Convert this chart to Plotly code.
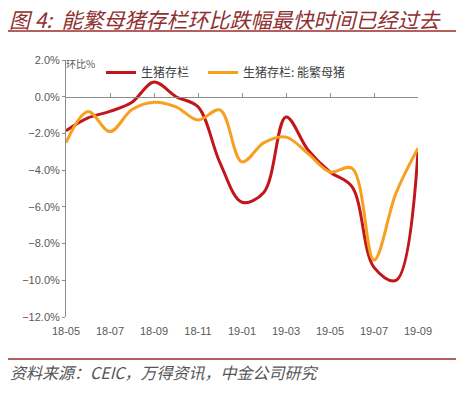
import plotly.graph_objects as go

months = ["18-05","18-06","18-07","18-08","18-09","18-10","18-11","18-12",
          "19-01","19-02","19-03","19-04","19-05","19-06","19-07","19-08","19-09"]
tick_labels = ["18-05","18-07","18-09","18-11","19-01","19-03","19-05","19-07","19-09"]
hog_stock = [-1.85,-1.15,-0.8,-0.3,0.8,0.0,-0.55,-3.6,-5.75,-5.2,-1.1,-2.9,-4.1,-4.9,-9.3,-10.0,-3.0]
sow_stock = [-2.5,-0.8,-1.9,-0.7,-0.3,-0.55,-1.27,-0.72,-3.55,-2.5,-2.2,-3.1,-4.1,-3.9,-8.9,-5.25,-2.8]
series_names = ["生猪存栏","生猪存栏: 能繁母猪"]

RED = "#C0161C"
ORANGE = "#F7A020"
GRAY = "#8C8C8C"
CJK = "Noto Sans CJK SC"

W, H = 467, 394
L, R, T, B = 66, 49, 60, 77
pw, ph = W - L - R, H - T - B
def px(x):
    return (x - L) / pw
def py(y):
    return (H - B - y) / ph

fig = go.Figure()
fig.add_trace(go.Scatter(x=months, y=hog_stock, name=series_names[0], mode="lines",
                         legend="legend",
                         line=dict(color=RED, width=3, shape="spline", smoothing=1.0)))
fig.add_trace(go.Scatter(x=months, y=sow_stock, name=series_names[1], mode="lines",
                         legend="legend2",
                         line=dict(color=ORANGE, width=3, shape="spline", smoothing=1.0)))
fig.add_trace(go.Scatter(x=months[:1], y=[0], xaxis="x2", mode="markers", opacity=0,
                         showlegend=False, hoverinfo="skip"))

legend_style = dict(orientation="h", y=py(58), xanchor="left", yanchor="top",
                    font=dict(family=CJK, size=12, color="#404040"),
                    bgcolor="rgba(0,0,0,0)", itemwidth=30, tracegroupgap=0)

fig.update_layout(
    width=W, height=H,
    margin=dict(l=L, r=R, t=T, b=B, autoexpand=False),
    paper_bgcolor="white", plot_bgcolor="white",
    font=dict(family="Liberation Sans, Arial", color="#595959", size=11),
    xaxis=dict(type="category", categoryorder="array", categoryarray=months,
               range=[0, len(months) - 1], tickvals=tick_labels, ticktext=tick_labels,
               showline=False, ticks="outside", ticklen=4, tickcolor="rgba(0,0,0,0)",
               showgrid=False, zeroline=False,
               tickfont=dict(size=11, color="#595959")),
    xaxis2=dict(type="category", overlaying="x", matches="x", anchor="free",
                position=12 / 14, showline=True, linecolor=GRAY, linewidth=1,
                ticks="inside", ticklen=4, tickcolor=GRAY, tickvals=tick_labels,
                showticklabels=False, showgrid=False, zeroline=False),
    yaxis=dict(range=[-12, 2], dtick=2, tickformat=".1f", ticksuffix="%",
               showline=True, linecolor=GRAY, linewidth=1, ticks="outside",
               ticklen=3, tickcolor=GRAY, showgrid=False, zeroline=False,
               tickfont=dict(size=11, color="#595959")),
    legend=dict(x=px(101), **legend_style),
    legend2=dict(x=px(203), **legend_style),
    showlegend=True,
)

fig.add_annotation(text="<i>图 4:  能繁母猪存栏环比跌幅最快时间已经过去</i>",
                   xref="paper", yref="paper", x=px(7), y=py(19), xanchor="left",
                   yanchor="middle", showarrow=False,
                   font=dict(family=CJK, size=21, color="#8F3030"))
fig.add_annotation(text="<i>资料来源：CEIC，万得资讯，中金公司研究</i>",
                   xref="paper", yref="paper", x=px(8), y=py(372), xanchor="left",
                   yanchor="middle", showarrow=False,
                   font=dict(family=CJK, size=16, color="#555555"))
fig.add_annotation(text="环比%", xref="paper", yref="paper", x=px(64), y=py(64),
                   xanchor="left", yanchor="middle", showarrow=False,
                   font=dict(family=CJK, size=10, color="#595959"))

fig.add_shape(type="line", xref="paper", yref="paper", x0=px(8), x1=px(456),
              y0=py(31), y1=py(31), line=dict(color="#9B2B2B", width=1.5))
fig.add_shape(type="line", xref="paper", yref="paper", x0=px(8), x1=px(456),
              y0=py(359), y1=py(359), line=dict(color="#9B2B2B", width=1.5))

fig.write_html("out.html", config={"displayModeBar": False},
               post_script="document.body.style.margin='0';")
